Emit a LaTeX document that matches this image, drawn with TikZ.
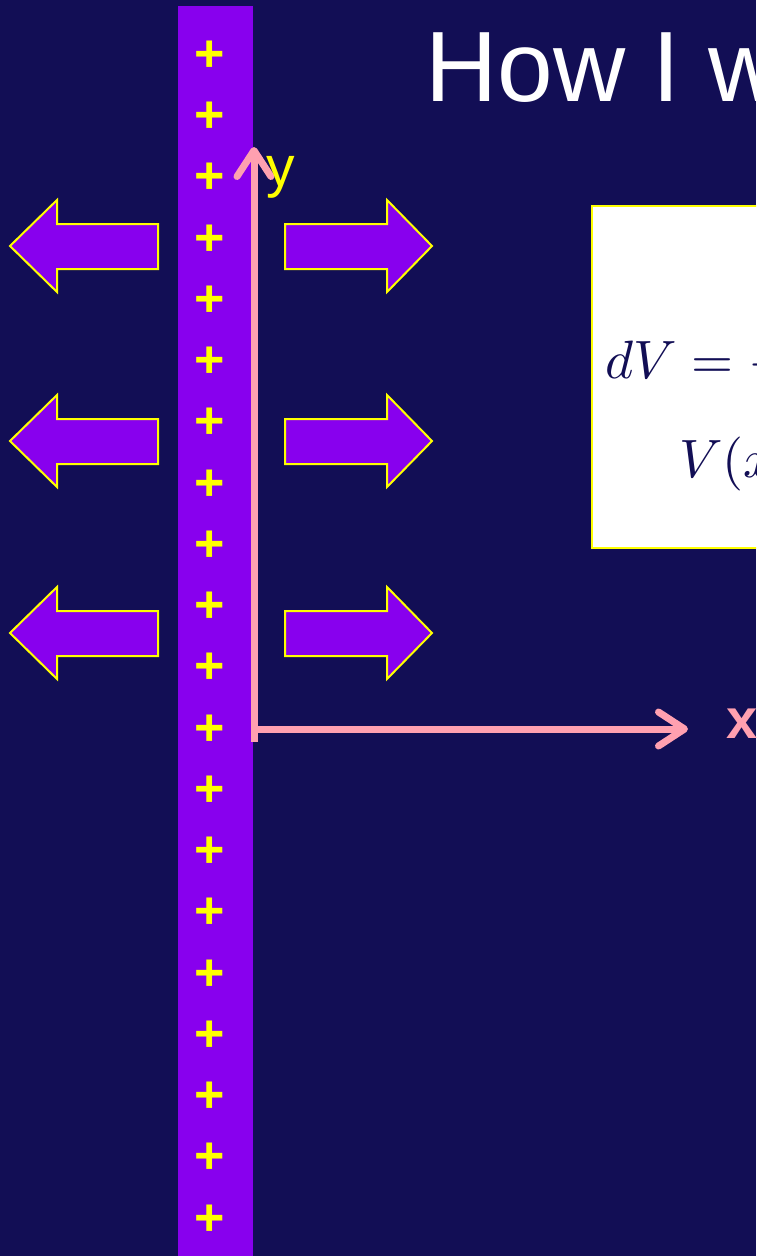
\documentclass[tikz,border=0pt]{standalone}
\usepackage{fontspec}
\setmainfont{Liberation Sans}
\usetikzlibrary{arrows.meta}
\definecolor{bg}{RGB}{18,14,85}
\definecolor{strip}{RGB}{136,0,238}
\definecolor{axpink}{RGB}{255,160,176}
\definecolor{ylw}{RGB}{255,255,0}
\definecolor{navy}{RGB}{18,14,85}
\tikzset{
  plussign/.style={text=ylw, font=\fontsize{52}{52}\selectfont\bfseries, inner sep=0pt},
  fieldarrow/.style={fill=strip, draw=ylw, line width=2pt, line join=miter},
  axis/.style={draw=axpink, line width=7pt, -{Straight Barb[length=26pt,width=34pt,round]}},
  eqtext/.style={text=navy, scale=5.4, anchor=base west, inner sep=0pt},
}
\begin{document}
\begin{tikzpicture}[x=1pt,y=-1pt]
\useasboundingbox (0,0) rectangle (756,1256);
\clip (0,0) rectangle (756,1256);
\fill[bg] (0,0) rectangle (756,1256);
% charged strip
\fill[strip] (178,6) rectangle (253,1256);
\foreach \i in {0,...,19}
  \node[plussign] (p\i) at (210,{56+61.26*\i}) {+};
% field arrows
\foreach \y in {246,441,633} {
  \draw[fieldarrow] (10,\y) -- (57,\y-46) -- (57,\y-22) -- (158,\y-22) -- (158,\y+23) -- (57,\y+23) -- (57,\y+46) -- cycle;
  \draw[fieldarrow] (432,\y) -- (387,\y-46) -- (387,\y-22) -- (285,\y-22) -- (285,\y+23) -- (387,\y+23) -- (387,\y+46) -- cycle;
}
% axes
\coordinate (ybot) at (254,742);
\coordinate (ytop) at (254,147);
\coordinate (xorg) at (251,729);
\coordinate (xend) at (688,729);
\draw[axis] (ybot) -- (ytop);
\draw[axis] (xorg) -- (xend);
\node[text=ylw, font=\fontsize{57}{57}\selectfont, anchor=base west, inner sep=0pt] (ylab) at (266,186) {y};
\node[text=axpink, font=\fontsize{56}{56}\selectfont\bfseries, anchor=base west, inner sep=0pt] (xlab) at (726,738) {x};
% title
\node[text=white, font=\fontsize{100}{100}\selectfont, anchor=base west, inner sep=0pt] (title) at (425,101) {How I w};
% equation box
\draw[draw=ylw, line width=2pt, fill=white] (592,206) rectangle (820,548);
\node[eqtext] (eq1) at (604,378) {$dV = -$};
\node[eqtext] (eq2) at (678,477) {$V(x$};
\end{tikzpicture}
\end{document}
